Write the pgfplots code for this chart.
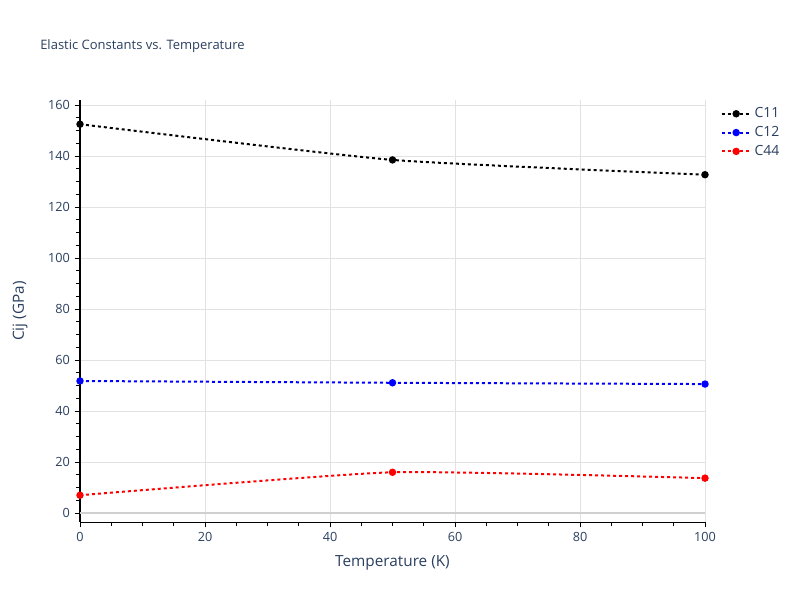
\documentclass[border=0pt]{standalone}
\usepackage{pgfplots}
\pgfplotsset{compat=1.18}
\usepackage{fontspec}
\setmainfont{Open Sans}
\definecolor{txt}{HTML}{2A3F5F}
\definecolor{gridc}{HTML}{E2E2E2}
\definecolor{zeroc}{HTML}{D0D0D0}
\begin{document}
\begin{tikzpicture}
\path[use as bounding box] (0pt,0pt) rectangle (600pt,450pt);
\node[anchor=west,inner sep=0pt,font=\fontsize{9.75}{11}\selectfont,text=txt] at (30pt,415.5pt) {Elastic Constants vs. Temperature};
\begin{axis}[
  at={(60pt,58.5pt)}, anchor=south west,
  scale only axis, width=468.75pt, height=316.5pt,
  xmin=0, xmax=100, ymin=-3.5, ymax=162,
  axis x line*=bottom, axis y line*=left,
  axis line style={black, line width=0.75pt},
  xtick={0,20,...,100}, ytick={0,20,...,160},
  minor x tick num=3, minor y tick num=3,
  tick align=outside,
  major tick length=4pt, minor tick length=3pt,
  tick style={black, line width=0.6pt},
  grid=major, major grid style={gridc, line width=0.75pt},
  /pgf/number format/assume math mode=true,
  ticklabel style={font=\fontsize{9.5}{10}\selectfont, text=txt},
  xlabel={Temperature (K)}, ylabel={Cij (GPa)},
  label style={font=\fontsize{11.5}{13}\selectfont, text=txt},
  xlabel style={at={(axis description cs:0.5,0)}, anchor=center, yshift=-30.75pt},
  ylabel style={at={(axis description cs:0,0.5)}, anchor=center, yshift=45pt},
  legend style={at={(1.018,0.995)}, anchor=north west, draw=none, fill=none,
    font=\fontsize{10.5}{11}\selectfont, text=txt, row sep=1pt},
  legend cell align=left,
  legend image code/.code={
    \draw[#1, mark=none] (0pt,0pt) -- (22pt,0pt);
    \draw[#1, only marks] plot coordinates {(11pt,0pt)};
  },
  every axis plot/.append style={line width=1.5pt, dash pattern=on 2.25pt off 2.25pt, mark=*, mark size=2pt, mark options={solid}, smooth, tension=0.3},
  clip=false,
]
\addplot[zeroc, line width=1.5pt, forget plot, no marks, solid, sharp plot] coordinates {(0,0) (100,0)};
\addplot[black] coordinates {(0,152.5) (50,138.5) (100,132.7)};
\addlegendentry{C11}
\addplot[blue] coordinates {(0,51.8) (50,51.1) (100,50.6)};
\addlegendentry{C12}
\addplot[red] coordinates {(0,7.0) (50,16.0) (100,13.7)};
\addlegendentry{C44}
\end{axis}
\end{tikzpicture}
\end{document}
